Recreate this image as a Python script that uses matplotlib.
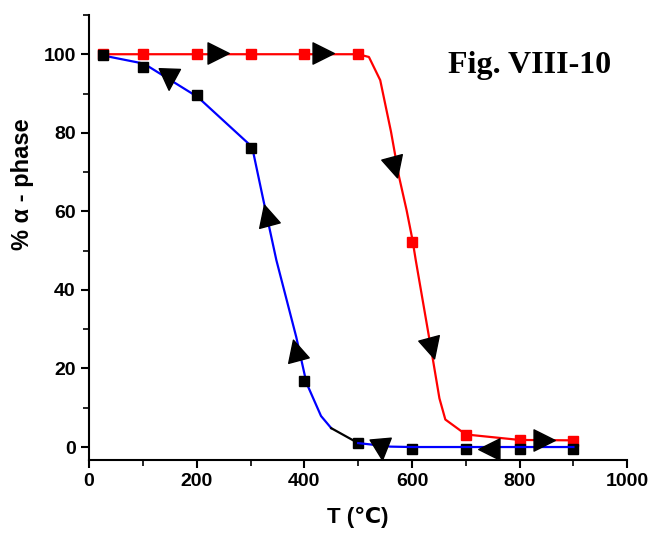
import matplotlib
matplotlib.use("Agg")
import matplotlib.pyplot as plt
from matplotlib.path import Path
from matplotlib.markers import MarkerStyle
from matplotlib.ticker import MultipleLocator

plt.rcParams['font.family'] = ['Liberation Sans', 'DejaVu Sans']

# ---- data ----
# heating (red) measured points
heat_T = [25, 100, 200, 300, 400, 500, 600, 700, 800, 900]
heat_pct = [100, 100, 100, 100, 100, 100, 52.3, 3.0, 1.7, 1.6]
# heating fitted curve
heat_curve_T = [25, 500, 520, 541, 561, 576, 590, 601, 607, 638, 651, 662, 700, 800, 900]
heat_curve_pct = [100, 100, 99.3, 93.4, 80.3, 68.8, 60.3, 52.7, 47.6, 23, 12.4, 7.0, 3.2, 1.8, 1.7]

# cooling (black squares) measured points
cool_T = [25, 100, 200, 300, 400, 500, 600, 700, 800, 900]
cool_pct = [99.7, 96.7, 89.5, 76.2, 16.8, 0.9, -0.5, -0.5, -0.5, -0.5]
# cooling fitted curve (blue), upper part and lower part
cool_curve_T = [25, 102, 202, 303, 324, 348, 385, 404, 431, 450]
cool_curve_pct = [99.7, 97.6, 89.1, 76.4, 62.8, 47.6, 28.0, 16.3, 7.9, 4.8]
cool_join_T = [450, 500]
cool_join_pct = [4.8, 1.0]
cool_tail_T = [500, 560, 600, 900]
cool_tail_pct = [1.0, 0.1, 0.0, 0.0]

# direction arrows (positions)
arrow_T = [238, 433, 149, 567, 331, 636, 384, 543, 745, 844]
arrow_pct = [100.3, 100.3, 94, 71.6, 58.8, 25.4, 24.5, -0.2, -0.5, 1.8]
arrow_angle = [0, 0, -92, -75, 105, -75, 105, -85, 180, 0]

x_ticks = [0, 200, 400, 600, 800, 1000]
y_ticks = [0, 20, 40, 60, 80, 100]

fig = plt.figure(figsize=(6.5, 5.34), dpi=100)
ax = fig.add_axes([0.137, 0.1386, 0.828, 0.8334])

ax.plot(heat_curve_T, heat_curve_pct, color='red', lw=1.6, zorder=2)
ax.plot(cool_curve_T, cool_curve_pct, color='blue', lw=1.6, zorder=2)
ax.plot(cool_join_T, cool_join_pct, color='black', lw=1.6, zorder=2)
ax.plot(cool_tail_T, cool_tail_pct, color='blue', lw=1.6, zorder=3.2)

ax.plot(heat_T, heat_pct, ls='none', marker='s', ms=7, color='red', zorder=2.5)
ax.plot(cool_T, cool_pct, ls='none', marker='s', ms=7, color='black', zorder=2.6)

tri = Path([(1, 0), (-0.8, 0.9), (-0.8, -0.9), (1, 0)],
           [Path.MOVETO, Path.LINETO, Path.LINETO, Path.CLOSEPOLY])
for t, p, a in zip(arrow_T, arrow_pct, arrow_angle):
    m = MarkerStyle(tri).rotated(deg=a)
    ax.plot([t], [p], ls='none', marker=m, ms=17, color='black', zorder=4)

ax.set_xlim(0, 1000)
ax.set_ylim(-3.3, 110)
ax.set_xticks(x_ticks)
ax.set_yticks(y_ticks)
ax.xaxis.set_minor_locator(MultipleLocator(100))
ax.yaxis.set_minor_locator(MultipleLocator(10))
for s in ['top', 'right']:
    ax.spines[s].set_visible(False)
for s in ['left', 'bottom']:
    ax.spines[s].set_linewidth(1.5)
ax.tick_params(which='major', length=6, width=1.5, direction='out')
ax.tick_params(which='minor', length=4, width=1.2, direction='out')
for lab in ax.get_xticklabels() + ax.get_yticklabels():
    lab.set_fontweight('bold')
    lab.set_fontsize(14)

ax.set_xlabel('T (\u2103)', fontsize=16, fontweight='bold', labelpad=12)
ax.set_ylabel('% \u03b1 - phase', fontsize=17, fontweight='bold')
ax.yaxis.set_label_coords(-0.103, 0.62)

ax.text(667, 95.2, 'Fig. VIII-10', fontsize=23, fontweight='bold',
        family=['Liberation Serif', 'DejaVu Serif'], ha='left', va='baseline')

fig.savefig('out.png', dpi=100)
